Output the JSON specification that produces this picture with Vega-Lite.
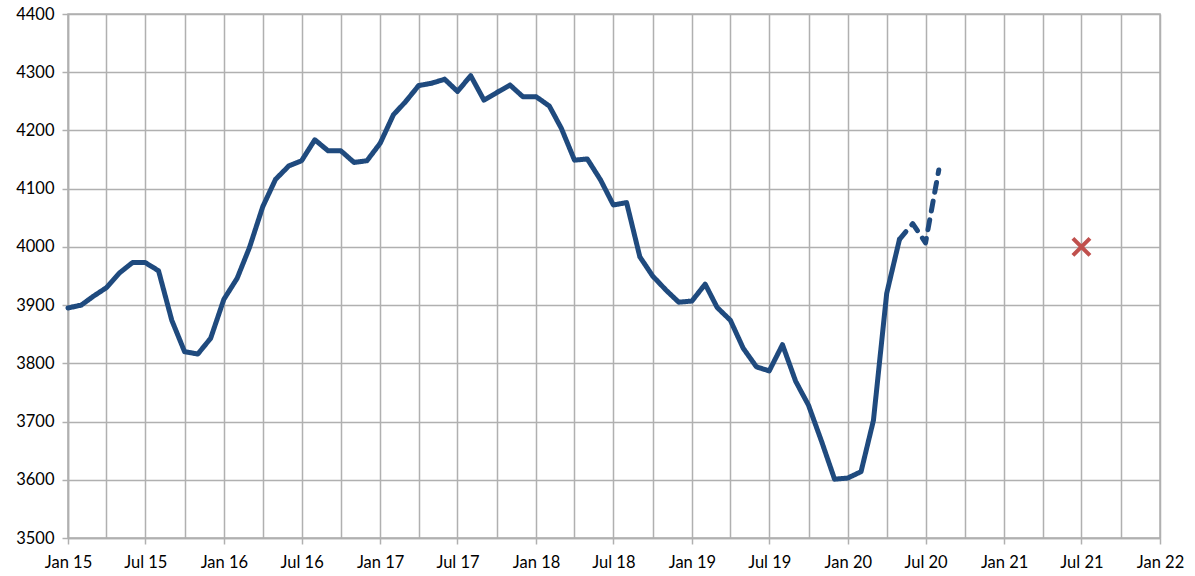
{
  "$schema": "https://vega.github.io/schema/vega-lite/v6.json",
  "width": 1092,
  "height": 524,
  "autosize": "none",
  "padding": {"left": 68, "top": 14, "right": 35, "bottom": 38},
  "background": "white",
  "config": {
    "view": {"stroke": "#b0b0b0", "strokeWidth": 1.5},
    "axis": {
      "labelFont": "Lato",
      "labelFontSize": 16.5,
      "labelColor": "#000000",
      "gridColor": "#b0b0b0",
      "gridWidth": 1.5,
      "domainColor": "#b0b0b0",
      "domainWidth": 1.5,
      "tickColor": "#b0b0b0",
      "tickWidth": 1.5,
      "tickSize": 6,
      "title": null
    }
  },
  "layer": [
    {
      "data": {
        "values": [
          {"date": "2015/01/01", "value": 3895, "seg": "solid"},
          {"date": "2015/02/01", "value": 3900, "seg": "solid"},
          {"date": "2015/03/01", "value": 3915, "seg": "solid"},
          {"date": "2015/04/01", "value": 3930, "seg": "solid"},
          {"date": "2015/05/01", "value": 3955, "seg": "solid"},
          {"date": "2015/06/01", "value": 3973, "seg": "solid"},
          {"date": "2015/07/01", "value": 3973, "seg": "solid"},
          {"date": "2015/08/01", "value": 3959, "seg": "solid"},
          {"date": "2015/09/01", "value": 3874, "seg": "solid"},
          {"date": "2015/10/01", "value": 3820, "seg": "solid"},
          {"date": "2015/11/01", "value": 3816, "seg": "solid"},
          {"date": "2015/12/01", "value": 3843, "seg": "solid"},
          {"date": "2016/01/01", "value": 3910, "seg": "solid"},
          {"date": "2016/02/01", "value": 3946, "seg": "solid"},
          {"date": "2016/03/01", "value": 3999, "seg": "solid"},
          {"date": "2016/04/01", "value": 4069, "seg": "solid"},
          {"date": "2016/05/01", "value": 4116, "seg": "solid"},
          {"date": "2016/06/01", "value": 4139, "seg": "solid"},
          {"date": "2016/07/01", "value": 4148, "seg": "solid"},
          {"date": "2016/08/01", "value": 4184, "seg": "solid"},
          {"date": "2016/09/01", "value": 4165, "seg": "solid"},
          {"date": "2016/10/01", "value": 4165, "seg": "solid"},
          {"date": "2016/11/01", "value": 4145, "seg": "solid"},
          {"date": "2016/12/01", "value": 4148, "seg": "solid"},
          {"date": "2017/01/01", "value": 4178, "seg": "solid"},
          {"date": "2017/02/01", "value": 4227, "seg": "solid"},
          {"date": "2017/03/01", "value": 4249, "seg": "solid"},
          {"date": "2017/04/01", "value": 4277, "seg": "solid"},
          {"date": "2017/05/01", "value": 4281, "seg": "solid"},
          {"date": "2017/06/01", "value": 4288, "seg": "solid"},
          {"date": "2017/07/01", "value": 4267, "seg": "solid"},
          {"date": "2017/08/01", "value": 4294, "seg": "solid"},
          {"date": "2017/09/01", "value": 4252, "seg": "solid"},
          {"date": "2017/10/01", "value": 4265, "seg": "solid"},
          {"date": "2017/11/01", "value": 4278, "seg": "solid"},
          {"date": "2017/12/01", "value": 4258, "seg": "solid"},
          {"date": "2018/01/01", "value": 4258, "seg": "solid"},
          {"date": "2018/02/01", "value": 4242, "seg": "solid"},
          {"date": "2018/03/01", "value": 4204, "seg": "solid"},
          {"date": "2018/04/01", "value": 4149, "seg": "solid"},
          {"date": "2018/05/01", "value": 4151, "seg": "solid"},
          {"date": "2018/06/01", "value": 4115, "seg": "solid"},
          {"date": "2018/07/01", "value": 4072, "seg": "solid"},
          {"date": "2018/08/01", "value": 4076, "seg": "solid"},
          {"date": "2018/09/01", "value": 3983, "seg": "solid"},
          {"date": "2018/10/01", "value": 3950, "seg": "solid"},
          {"date": "2018/11/01", "value": 3926, "seg": "solid"},
          {"date": "2018/12/01", "value": 3905, "seg": "solid"},
          {"date": "2019/01/01", "value": 3907, "seg": "solid"},
          {"date": "2019/02/01", "value": 3936, "seg": "solid"},
          {"date": "2019/03/01", "value": 3896, "seg": "solid"},
          {"date": "2019/04/01", "value": 3874, "seg": "solid"},
          {"date": "2019/05/01", "value": 3826, "seg": "solid"},
          {"date": "2019/06/01", "value": 3794, "seg": "solid"},
          {"date": "2019/07/01", "value": 3787, "seg": "solid"},
          {"date": "2019/08/01", "value": 3832, "seg": "solid"},
          {"date": "2019/09/01", "value": 3769, "seg": "solid"},
          {"date": "2019/10/01", "value": 3728, "seg": "solid"},
          {"date": "2019/11/01", "value": 3665, "seg": "solid"},
          {"date": "2019/12/01", "value": 3601, "seg": "solid"},
          {"date": "2020/01/01", "value": 3603, "seg": "solid"},
          {"date": "2020/02/01", "value": 3614, "seg": "solid"},
          {"date": "2020/03/01", "value": 3702, "seg": "solid"},
          {"date": "2020/04/01", "value": 3920, "seg": "solid"},
          {"date": "2020/05/01", "value": 4013, "seg": "solid"},
          {"date": "2020/05/01", "value": 4013, "seg": "dashed"},
          {"date": "2020/06/01", "value": 4040, "seg": "dashed"},
          {"date": "2020/07/01", "value": 4007, "seg": "dashed"},
          {"date": "2020/08/01", "value": 4132, "seg": "dashed"}
        ]
      },
      "mark": {"type": "line", "color": "#1F4A7E", "strokeWidth": 5, "strokeCap": "round", "strokeJoin": "round"},
      "encoding": {
        "x": {
          "field": "date",
          "type": "temporal",
          "scale": {"domain": [{"year": 2015, "month": 1, "date": 1}, {"year": 2022, "month": 1, "date": 1}]},
          "axis": {
            "tickCount": {"interval": "month", "step": 3},
            "labelExpr": "month(datum.value) % 6 == 0 ? timeFormat(datum.value, '%b %y') : ''",
            "tickOpacity": {"condition": {"test": "month(datum.value) % 6 == 0", "value": 1}, "value": 0},
            "labelPadding": 10,
            "labelFlush": false,
            "labelOverlap": false
          }
        },
        "y": {
          "field": "value",
          "type": "quantitative",
          "scale": {"domain": [3500, 4400], "nice": false, "zero": false},
          "axis": {"values": [3500, 3600, 3700, 3800, 3900, 4000, 4100, 4200, 4300, 4400], "labelPadding": 8, "format": "d"}
        },
        "strokeDash": {
          "field": "seg",
          "type": "nominal",
          "scale": {"domain": ["solid", "dashed"], "range": [[1, 0], [10, 9]]},
          "legend": null
        }
      }
    },
    {
      "data": {"values": [{"date": "2021/07/01", "value": 4000}]},
      "mark": {
        "type": "point",
        "shape": "M-1,-1L1,1M-1,1L1,-1",
        "filled": false,
        "stroke": "#C0504D",
        "strokeWidth": 4,
        "size": 290,
        "opacity": 1
      },
      "encoding": {
        "x": {"field": "date", "type": "temporal"},
        "y": {"field": "value", "type": "quantitative"}
      }
    }
  ]
}
